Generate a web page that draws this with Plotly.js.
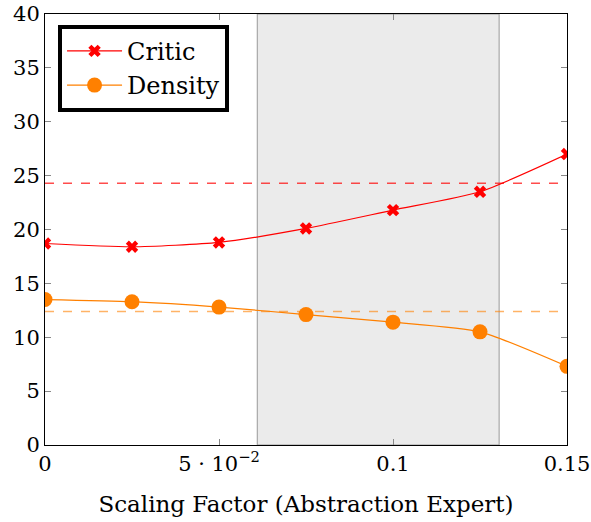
<!DOCTYPE html>
<html><head><meta charset="utf-8">
<script src="https://cdn.plot.ly/plotly-3.0.1.min.js"></script>
<style>body{margin:0;background:#fff}#chart{width:591px;height:522px}</style>
</head><body><div id="chart"></div>
<script>
const scaling = [0, 0.025, 0.05, 0.075, 0.1, 0.125, 0.15];
const critic = [18.7, 18.4, 18.8, 20.1, 21.8, 23.5, 27.0];
const density = [13.5, 13.3, 12.8, 12.1, 11.4, 10.5, 7.3];
const criticBaseline = 24.3;
const densityBaseline = 12.4;
const shadeRange = [0.061, 0.1305];
const xTickVals = [0, 0.05, 0.1, 0.15];
const xTickText = ['0', '5 · 10<sup>−2</sup>', '0.1', '0.15'];
const yTickVals = [0, 5, 10, 15, 20, 25, 30, 35, 40];

const font = 'DejaVu Serif';
const traces = [
  {x: scaling, y: critic, name: 'Critic', mode: 'lines+markers', type: 'scatter',
   line: {color: '#ff0000', width: 1.2, shape: 'spline', smoothing: 0.6},
   marker: {symbol: 'x', size: 11, color: '#ff0000', line: {width: 0}}},
  {x: scaling, y: density, name: 'Density', mode: 'lines+markers', type: 'scatter',
   line: {color: '#ff8000', width: 1.2, shape: 'spline', smoothing: 0.6},
   marker: {symbol: 'circle', size: 15, color: '#ff8000'}}
];
const layout = {
  width: 591, height: 522,
  margin: {l: 45, r: 24, t: 14, b: 77},
  paper_bgcolor: '#fff', plot_bgcolor: '#fff',
  font: {family: font, size: 21, color: '#000'},
  showlegend: true,
  legend: {x: 0.025, y: 0.975, xanchor: 'left', yanchor: 'top',
           bordercolor: '#000', borderwidth: 4, bgcolor: '#fff', itemwidth: 55,
           font: {family: font, size: 24}, tracegroupgap: 0},
  xaxis: {range: [0, 0.15], tickvals: xTickVals, ticktext: xTickText,
          ticks: 'inside', ticklen: 6, tickcolor: '#888', showgrid: false, zeroline: false,
          showline: true, linecolor: '#000', linewidth: 1, mirror: 'ticks',
          title: {text: 'Scaling Factor (Abstraction Expert)', font: {family: font, size: 23}, standoff: 20},
          tickfont: {family: font, size: 21}},
  yaxis: {range: [0, 40], tickvals: yTickVals,
          ticks: 'inside', ticklen: 6, tickcolor: '#888', showgrid: false, zeroline: false,
          showline: true, linecolor: '#000', linewidth: 1, mirror: 'ticks',
          tickfont: {family: font, size: 21}},
  shapes: [
    {type: 'rect', xref: 'x', yref: 'paper', x0: shadeRange[0], x1: shadeRange[1], y0: 0, y1: 1,
     fillcolor: '#ebebeb', line: {color: '#999', width: 1}, layer: 'below'},
    {type: 'line', xref: 'paper', yref: 'y', x0: 0, x1: 1, y0: criticBaseline, y1: criticBaseline,
     line: {color: 'rgba(255,0,0,0.7)', width: 1.5, dash: 'dash'}},
    {type: 'line', xref: 'paper', yref: 'y', x0: 0, x1: 1, y0: densityBaseline, y1: densityBaseline,
     line: {color: 'rgba(255,128,0,0.6)', width: 1.5, dash: 'dash'}}
  ]
};
Plotly.newPlot('chart', traces, layout, {displayModeBar: false, staticPlot: true});
</script></body></html>
